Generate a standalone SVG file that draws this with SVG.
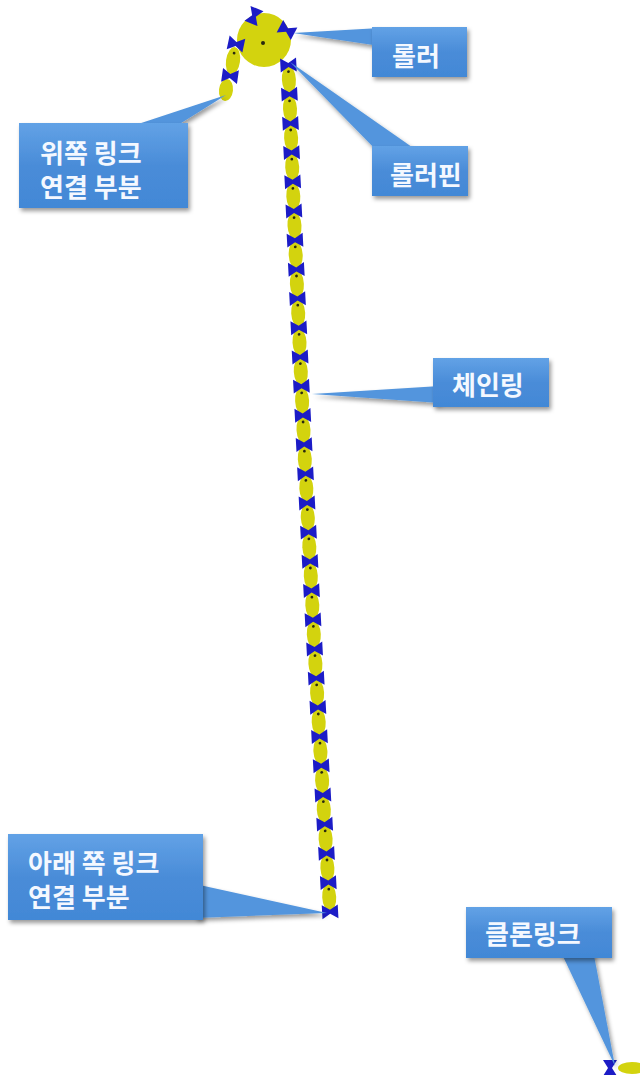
<svg xmlns="http://www.w3.org/2000/svg" xmlns:xlink="http://www.w3.org/1999/xlink" width="640" height="1075" viewBox="0 0 640 1075">
  <style>
    .box { fill: url(#boxFill); filter: url(#shadow); }
    .wedge { fill: #5295dd; }
    .label { font-family: "Noto Sans CJK KR", "Noto Sans", sans-serif; font-size: 26px; font-weight: 700; fill: #f4f8ff; }
    .yl { fill: #d3d30e; }
    .pin { fill: #2a2a10; }
    .bt { fill: #1c1cc6; }
  </style>
  <defs>
    <linearGradient id="boxFill" x1="0" y1="0" x2="0" y2="1">
      <stop offset="0" stop-color="#62a2e6"/>
      <stop offset="0.5" stop-color="#4a8cd8"/>
      <stop offset="1" stop-color="#4288d6"/>
    </linearGradient>
    <filter id="shadow" x="-20%" y="-20%" width="140%" height="150%">
      <feDropShadow dx="2" dy="3" stdDeviation="2" flood-color="#000" flood-opacity="0.4"/>
    </filter>
    <!-- one yellow plate link with its pin -->
    <g id="yl">
      <ellipse class="yl" rx="7" ry="14"/>
      <circle class="pin" cx="0" cy="-8" r="1.4"/>
    </g>
    <!-- blue bowtie side plate -->
    <path id="bt" class="bt" d="M-8,-7 L0,-2 L8,-7 L8,7 L0,2 L-8,7 Z"/>
  </defs>

  <rect width="640" height="1075" fill="#ffffff"/>

  <!-- chain: roller, left end, long right strand, loose clone link -->
  <g id="chain">
    <!-- left strand -->
    <use xlink:href="#yl" transform="translate(233,61) rotate(8)"/>
    <g transform="translate(226,90) rotate(6)"><ellipse class="yl" rx="7" ry="11"/></g>

    <circle cx="264" cy="40" r="27" fill="#d3d30e"/>
    <circle cx="263" cy="43" r="2" class="pin"/>

    <use xlink:href="#bt" transform="translate(236,44) rotate(12)"/>
    <use xlink:href="#bt" transform="translate(230,76) rotate(8)"/>

    <!-- over the roller -->
    <use xlink:href="#bt" transform="translate(254,16) rotate(112)"/>
    <use xlink:href="#bt" transform="translate(287,30) rotate(28)"/>

    <!-- right strand: plates -->
    <use xlink:href="#yl" transform="translate(288.9,79.6) rotate(-3)"/>
    <use xlink:href="#yl" transform="translate(290.0,108.8) rotate(-3)"/>
    <use xlink:href="#yl" transform="translate(291.1,138.0) rotate(-3)"/>
    <use xlink:href="#yl" transform="translate(292.2,167.2) rotate(-3)"/>
    <use xlink:href="#yl" transform="translate(293.3,196.4) rotate(-3)"/>
    <use xlink:href="#yl" transform="translate(294.5,225.6) rotate(-3)"/>
    <use xlink:href="#yl" transform="translate(295.7,254.8) rotate(-3)"/>
    <use xlink:href="#yl" transform="translate(296.9,284.0) rotate(-3)"/>
    <use xlink:href="#yl" transform="translate(298.2,313.2) rotate(-3)"/>
    <use xlink:href="#yl" transform="translate(299.5,342.4) rotate(-3)"/>
    <use xlink:href="#yl" transform="translate(300.8,371.6) rotate(-3)"/>
    <use xlink:href="#yl" transform="translate(302.1,400.8) rotate(-3)"/>
    <use xlink:href="#yl" transform="translate(303.5,430.0) rotate(-3)"/>
    <use xlink:href="#yl" transform="translate(304.8,459.2) rotate(-3)"/>
    <use xlink:href="#yl" transform="translate(306.3,488.4) rotate(-3)"/>
    <use xlink:href="#yl" transform="translate(307.8,517.6) rotate(-3)"/>
    <use xlink:href="#yl" transform="translate(309.3,546.8) rotate(-3)"/>
    <use xlink:href="#yl" transform="translate(310.8,576.0) rotate(-3)"/>
    <use xlink:href="#yl" transform="translate(312.3,605.2) rotate(-3)"/>
    <use xlink:href="#yl" transform="translate(313.8,634.4) rotate(-3)"/>
    <use xlink:href="#yl" transform="translate(315.4,663.6) rotate(-3)"/>
    <use xlink:href="#yl" transform="translate(317.1,692.8) rotate(-3)"/>
    <use xlink:href="#yl" transform="translate(318.7,722.0) rotate(-3)"/>
    <use xlink:href="#yl" transform="translate(320.4,751.2) rotate(-3)"/>
    <use xlink:href="#yl" transform="translate(322.1,780.4) rotate(-3)"/>
    <use xlink:href="#yl" transform="translate(323.8,809.6) rotate(-3)"/>
    <use xlink:href="#yl" transform="translate(325.6,838.8) rotate(-3)"/>
    <use xlink:href="#yl" transform="translate(327.4,868.0) rotate(-3)"/>
    <use xlink:href="#yl" transform="translate(329.2,897.2) rotate(-3)"/>

    <!-- right strand: bowties -->
    <use xlink:href="#bt" transform="translate(288.4,65.0) rotate(-3)"/>
    <use xlink:href="#bt" transform="translate(289.4,94.2) rotate(-3)"/>
    <use xlink:href="#bt" transform="translate(290.5,123.4) rotate(-3)"/>
    <use xlink:href="#bt" transform="translate(291.6,152.6) rotate(-3)"/>
    <use xlink:href="#bt" transform="translate(292.7,181.8) rotate(-3)"/>
    <use xlink:href="#bt" transform="translate(293.9,211.0) rotate(-3)"/>
    <use xlink:href="#bt" transform="translate(295.0,240.2) rotate(-3)"/>
    <use xlink:href="#bt" transform="translate(296.3,269.4) rotate(-3)"/>
    <use xlink:href="#bt" transform="translate(297.5,298.6) rotate(-3)"/>
    <use xlink:href="#bt" transform="translate(298.8,327.8) rotate(-3)"/>
    <use xlink:href="#bt" transform="translate(300.1,357.0) rotate(-3)"/>
    <use xlink:href="#bt" transform="translate(301.4,386.2) rotate(-3)"/>
    <use xlink:href="#bt" transform="translate(302.8,415.4) rotate(-3)"/>
    <use xlink:href="#bt" transform="translate(304.1,444.6) rotate(-3)"/>
    <use xlink:href="#bt" transform="translate(305.5,473.8) rotate(-3)"/>
    <use xlink:href="#bt" transform="translate(307.0,503.0) rotate(-3)"/>
    <use xlink:href="#bt" transform="translate(308.5,532.2) rotate(-3)"/>
    <use xlink:href="#bt" transform="translate(310.0,561.4) rotate(-3)"/>
    <use xlink:href="#bt" transform="translate(311.5,590.6) rotate(-3)"/>
    <use xlink:href="#bt" transform="translate(313.0,619.8) rotate(-3)"/>
    <use xlink:href="#bt" transform="translate(314.6,649.0) rotate(-3)"/>
    <use xlink:href="#bt" transform="translate(316.2,678.2) rotate(-3)"/>
    <use xlink:href="#bt" transform="translate(317.9,707.4) rotate(-3)"/>
    <use xlink:href="#bt" transform="translate(319.5,736.6) rotate(-3)"/>
    <use xlink:href="#bt" transform="translate(321.2,765.8) rotate(-3)"/>
    <use xlink:href="#bt" transform="translate(322.9,795.0) rotate(-3)"/>
    <use xlink:href="#bt" transform="translate(324.7,824.2) rotate(-3)"/>
    <use xlink:href="#bt" transform="translate(326.5,853.4) rotate(-3)"/>
    <use xlink:href="#bt" transform="translate(328.3,882.6) rotate(-3)"/>
    <use xlink:href="#bt" transform="translate(330.1,911.8) rotate(-3)"/>

    <!-- loose clone link -->
    <g transform="translate(632,1068) rotate(90)"><ellipse class="yl" rx="6" ry="14"/></g>
    <use xlink:href="#bt" transform="translate(610,1068) rotate(90)"/>
  </g>

  <!-- callout pointers -->
  <g id="connectors" filter="url(#shadow)">
    <polygon class="wedge" points="380,28 293,33 380,46"/>
    <polygon class="wedge" points="380,154 290,62 422,154"/>
    <polygon class="wedge" points="120,130 226,95 170,130"/>
    <polygon class="wedge" points="440,386 312,394 440,403"/>
    <polygon class="wedge" points="195,884 327,913 195,918"/>
    <polygon class="wedge" points="560,950 615,1066 593,950"/>
  </g>

  <g id="roller">
    <rect class="box" x="372" y="27" width="95" height="50"/>
    <text class="label" x="392" y="66">롤러</text>
  </g>

  <g id="roller-pin">
    <rect class="box" x="372" y="146" width="96" height="50"/>
    <text class="label" x="390" y="185">롤러핀</text>
  </g>

  <g id="upper-joint">
    <rect class="box" x="19" y="123" width="169" height="85"/>
    <text class="label" x="40" y="163">위쪽 링크</text>
    <text class="label" x="40" y="197">연결 부분</text>
  </g>

  <g id="chain-ring">
    <rect class="box" x="433" y="358" width="116" height="49"/>
    <text class="label" x="452" y="395">체인링</text>
  </g>

  <g id="lower-joint">
    <rect class="box" x="8" y="834" width="195" height="86"/>
    <text class="label" x="28" y="873">아래 쪽 링크</text>
    <text class="label" x="28" y="907">연결 부분</text>
  </g>

  <g id="clone-link">
    <rect class="box" x="466" y="907" width="146" height="51"/>
    <text class="label" x="485" y="944">클론링크</text>
  </g>
</svg>
